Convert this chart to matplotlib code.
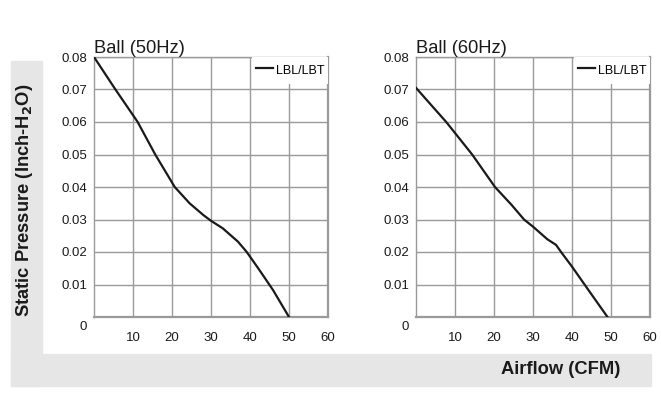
import matplotlib.pyplot as plt
from matplotlib.patches import Rectangle

plt.rcParams['font.family'] = ['Liberation Sans', 'DejaVu Sans']

# Fan curves (airflow CFM, static pressure inch-H2O)
airflow_50 = [0, 5.5, 11.2, 15.7, 20.7, 24.5, 28, 30, 33, 36.9, 39.1, 42.1, 45.9, 50]
pressure_50 = [0.080, 0.070, 0.060, 0.050, 0.040, 0.035, 0.0314, 0.0296,
               0.0273, 0.0232, 0.0201, 0.0150, 0.0083, 0.0]
airflow_60 = [0, 7.75, 14.4, 20.25, 24.5, 27.7, 30, 33.7, 35.9, 37.2, 40, 44.8, 49.1]
pressure_60 = [0.0705, 0.060, 0.050, 0.040, 0.0345, 0.030, 0.0278, 0.0239,
               0.0222, 0.020, 0.0155, 0.0073, 0.0]

titles = ['Ball (50Hz)', 'Ball (60Hz)']
series_label = 'LBL/LBT'
x_ticks = [10, 20, 30, 40, 50, 60]
y_ticks = [0.01, 0.02, 0.03, 0.04, 0.05, 0.06, 0.07, 0.08]

W, H = 661, 404
fig = plt.figure(figsize=(W / 100, H / 100), dpi=100)

# gray L-shaped band behind the axis titles
band = '#e6e6e7'
fig.patches.append(Rectangle((11 / W, 1 - 386 / H), 31 / W, 325 / H,
                             transform=fig.transFigure, color=band, zorder=0))
fig.patches.append(Rectangle((11 / W, 1 - 386 / H), 640 / W, 32 / H,
                             transform=fig.transFigure, color=band, zorder=0))

grid_c = '#9a9a9a'
panels = [(94, airflow_50, pressure_50), (416, airflow_60, pressure_60)]
for i, (left_px, xs, ys) in enumerate(panels):
    ax = fig.add_axes([left_px / W, 1 - 317 / H, 234 / W, 260 / H])
    ax.plot(xs, ys, color='#1a1a1a', lw=1.6, label=series_label, zorder=3)
    ax.set_xlim(0, 60)
    ax.set_ylim(0, 0.08)
    ax.set_xticks(x_ticks)
    ax.set_xticklabels([str(t) for t in x_ticks])
    ax.set_yticks(y_ticks)
    ax.set_yticklabels([f'{t:.2f}' for t in y_ticks])
    ax.tick_params(axis='x', length=0, pad=10.5, labelsize=9.5, colors='#1a1a1a')
    ax.tick_params(axis='y', length=0, pad=5, labelsize=9.5, colors='#1a1a1a')
    ax.grid(True, color=grid_c, lw=1)
    ax.set_axisbelow(True)
    for side, sp in ax.spines.items():
        sp.set_color(grid_c)
        sp.set_linewidth(1.6 if side in ('right', 'bottom') else 1)
    ax.annotate('0', xy=(0, 0), xytext=(-8, -7), textcoords='offset points',
                ha='center', va='center', fontsize=9.5, color='#1a1a1a')
    ax.set_title(titles[i], loc='left', fontsize=13.2, pad=3, color='#1a1a1a')
    leg = ax.legend(loc='upper right', fontsize=9, frameon=True,
                    borderaxespad=0, borderpad=0.3, handleheight=2.0,
                    handlelength=1.4, handletextpad=0.2, fancybox=False)
    leg.get_frame().set_facecolor('white')
    leg.get_frame().set_edgecolor('none')
    leg.get_frame().set_alpha(1)

fig.text(25 / W, 1 - 200 / H, 'Static Pressure (Inch-H$_\\mathbf{2}$O)',
         rotation=90, ha='center', va='center', fontsize=13.2,
         fontweight='bold', color='#1a1a1a')
fig.text(620 / W, 1 - 370 / H, 'Airflow (CFM)', ha='right', va='center',
         fontsize=13.2, fontweight='bold', color='#1a1a1a')

fig.savefig('out.png', dpi=100)
